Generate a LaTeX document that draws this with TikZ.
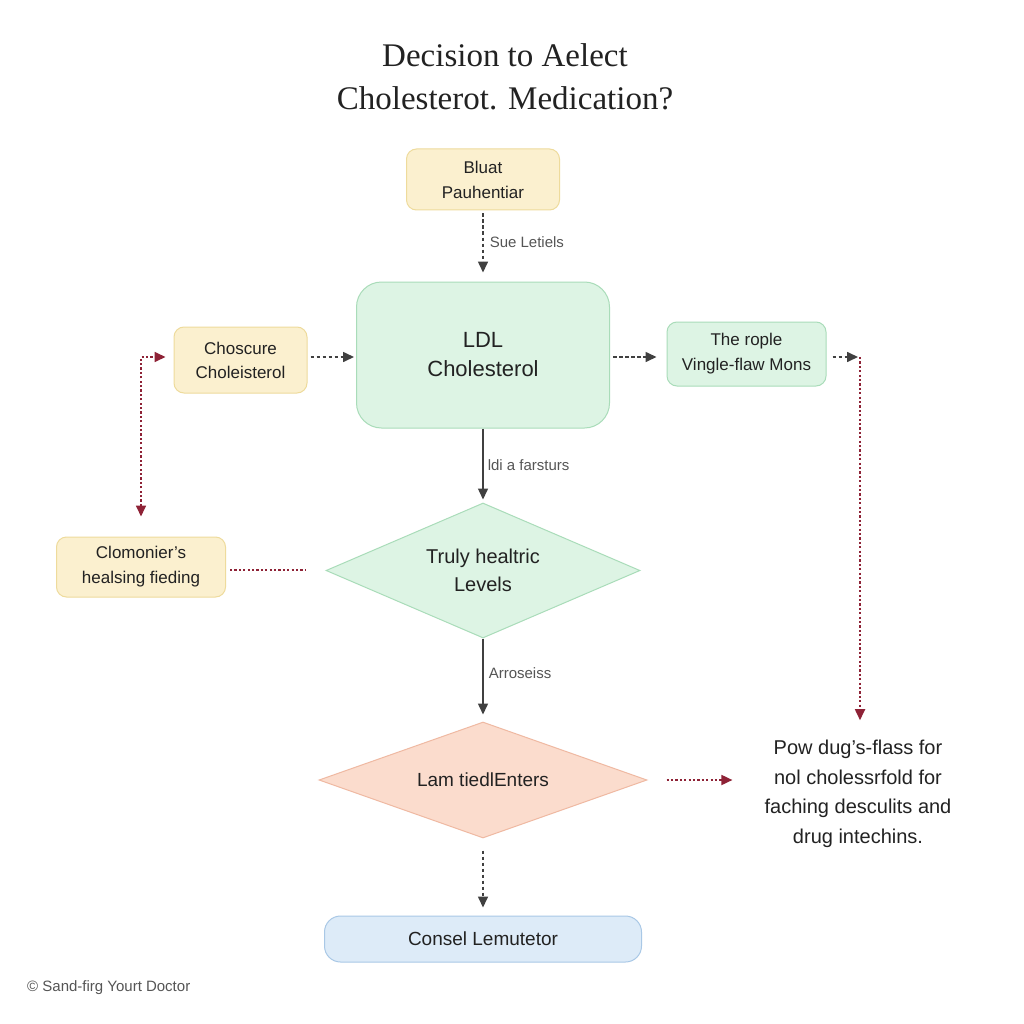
\documentclass[tikz,border=0pt]{standalone}
\usepackage{fontspec}
\setmainfont{Liberation Sans}
\newfontfamily\titlefont{Liberation Serif}
\usetikzlibrary{shapes.geometric,arrows.meta}
\definecolor{ylwfill}{HTML}{FBF0CF}
\definecolor{ylwdraw}{HTML}{EEDB9C}
\definecolor{grnfill}{HTML}{DDF4E4}
\definecolor{grndraw}{HTML}{A9DCB9}
\definecolor{pnkfill}{HTML}{FBDCCD}
\definecolor{pnkdraw}{HTML}{EFB9A2}
\definecolor{blufill}{HTML}{DDEBF8}
\definecolor{bludraw}{HTML}{A9C8E6}
\definecolor{darkline}{HTML}{404040}
\definecolor{redline}{HTML}{8E2236}
\definecolor{txt}{HTML}{222222}
\definecolor{lbl}{HTML}{555555}
\tikzset{
  box/.style={draw, line width=1pt, rounded corners=10pt, align=center, text=txt, inner sep=0pt},
  ybox/.style={box, fill=ylwfill, draw=ylwdraw},
  gbox/.style={box, fill=grnfill, draw=grndraw},
  dia/.style={diamond, draw, line width=1pt, align=center, text=txt, inner sep=0pt},
  tip/.style={-{Triangle[length=11pt,width=10pt]}},
  solidarrow/.style={draw=darkline, line width=1.5pt, tip},
  darkdash/.style={draw=darkline, line width=1.6pt, dash pattern=on 3.5pt off 2.5pt},
  reddot/.style={draw=redline, line width=1.7pt, dash pattern=on 2.2pt off 2.2pt},
  lbltext/.style={text=lbl, font=\fontsize{15}{18}\selectfont, anchor=west, inner sep=0pt},
}
\begin{document}
\begin{tikzpicture}[x=1pt,y=-1pt]
\useasboundingbox[fill=white] (0,0) rectangle (1024,1024);

% title
\node[align=center, text=txt, font=\titlefont\fontsize{33}{43}\selectfont] (title) at (505,77)
  {Decision to Aelect\\Cholesterot. Medication?};

% nodes
\node[ybox, minimum width=153pt, minimum height=61pt, font=\fontsize{17}{25}\selectfont] (bluat) at (483,179.5)
  {Bluat\\Pauhentiar};
\node[gbox, rounded corners=25pt, minimum width=253pt, minimum height=146pt, font=\fontsize{22}{29}\selectfont] (ldl) at (483,355)
  {LDL\\Cholesterol};
\node[ybox, minimum width=133pt, minimum height=66pt, font=\fontsize{17}{24}\selectfont] (chos) at (240.5,360)
  {Choscure\\Choleisterol};
\node[gbox, minimum width=159pt, minimum height=64pt, font=\fontsize{17}{25}\selectfont] (rople) at (746.5,354)
  {The rople\\Vingle-flaw Mons};
\node[dia, shape aspect=2.33, fill=grnfill, draw=grndraw, minimum width=314pt, minimum height=135pt, font=\fontsize{20}{28}\selectfont] (truly) at (483,570.5)
  {Truly healtric\\Levels};
\node[ybox, minimum width=169pt, minimum height=60pt, font=\fontsize{17}{25}\selectfont] (clom) at (141,567)
  {Clomonier's\\healsing fieding};
\node[dia, shape aspect=2.83, fill=pnkfill, draw=pnkdraw, minimum width=328pt, minimum height=116pt, font=\fontsize{19}{24}\selectfont] (lam) at (483,780)
  {Lam tiedlEnters};
\node[align=center, text=txt, inner sep=0pt, font=\fontsize{20}{29.5}\selectfont] (pow) at (858,794)
  {Pow dug's-flass for\\nol cholessrfold for\\faching desculits and\\drug intechins.};
\node[box, fill=blufill, draw=bludraw, rounded corners=16pt, minimum width=317pt, minimum height=46pt, font=\fontsize{19}{24}\selectfont] (consel) at (483,939)
  {Consel Lemutetor};
\node[anchor=west, text=lbl, inner sep=0pt, font=\fontsize{15}{18}\selectfont] (foot) at (27,988)
  {\textcopyright{} Sand-firg Yourt Doctor};

% connectors
\draw[darkdash, tip, shorten <=3pt, shorten >=9pt] (bluat.south) -- (ldl.north)
  node[lbltext, pos=0.45, xshift=6pt] (l1) {Sue Letiels};
\draw[darkdash, tip, shorten <=3pt, shorten >=2pt] (chos.east) ++(0,-3) coordinate (c1) -- (c1 -| ldl.west);
\draw[darkdash, tip, shorten <=3pt, shorten >=10pt] (ldl.east) ++(0,2) coordinate (c2) -- (c2 -| rople.west);
\coordinate (rc) at (860,357);
\draw[darkdash, tip, shorten <=6pt, shorten >=2pt] (rople.east) ++(0,3) coordinate (c3) -- (rc);
\draw[reddot, tip, shorten >=20pt] (rc) -- (rc |- pow.north);
\draw[reddot, {Triangle[length=11pt,width=10pt]}-{Triangle[length=11pt,width=10pt]}, shorten <=20pt, shorten >=8pt]
  (clom.north) |- ([yshift=3pt]chos.west);
\draw[solidarrow, shorten >=3pt] (ldl.south) -- (truly.north)
  node[lbltext, pos=0.5, xshift=4pt] (l2) {ldi a farsturs};
\draw[reddot, shorten <=4pt, shorten >=20pt] (clom.east) ++(0,3) coordinate (c4) -- (c4 -| truly.west);
\draw[solidarrow, shorten >=7pt] (truly.south) -- (lam.north)
  node[lbltext, pos=0.42, xshift=5pt] (l3) {Arroseiss};
\draw[reddot, tip, shorten <=19pt, shorten >=32pt] (lam.east) -- (lam.east -| pow.west);
\draw[darkdash, tip, shorten <=12pt, shorten >=8pt] (lam.south) -- (consel.north);
\end{tikzpicture}
\end{document}
